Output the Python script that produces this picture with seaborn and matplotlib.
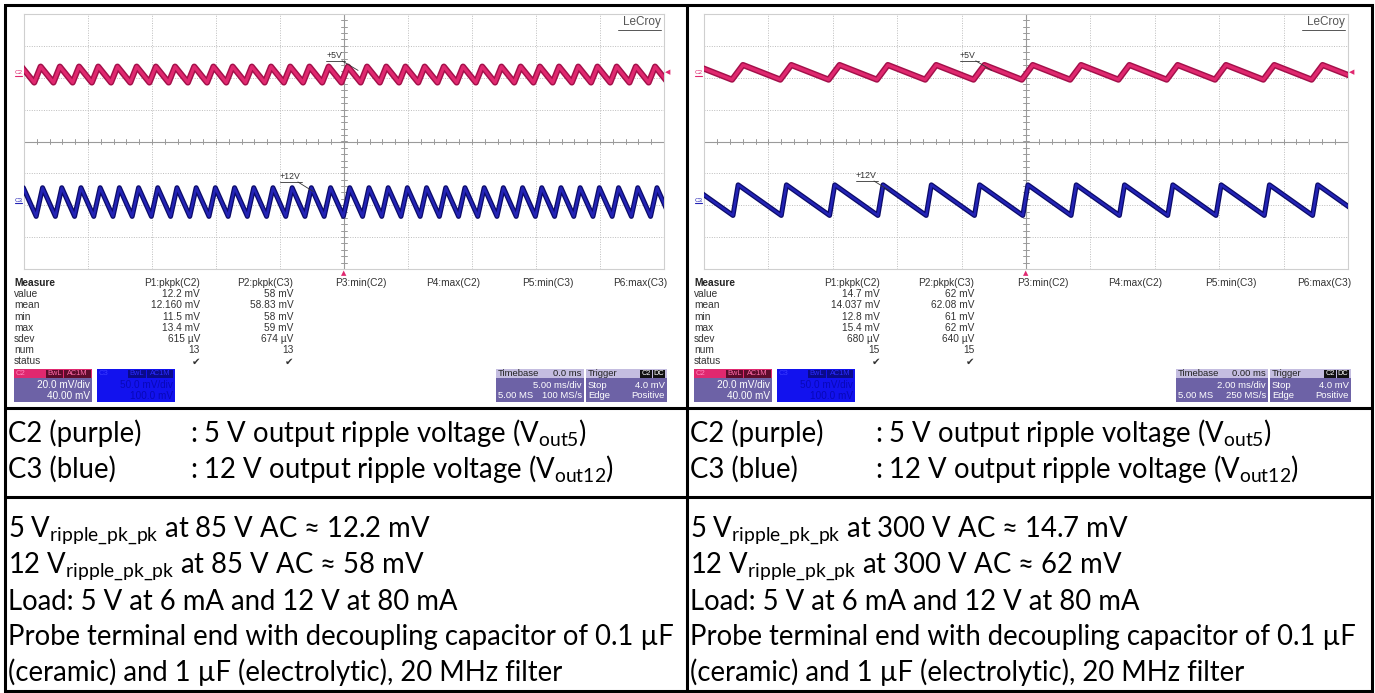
import numpy as np
import pandas as pd
import matplotlib
matplotlib.use("Agg")
import matplotlib.pyplot as plt
import seaborn as sns
from matplotlib.patches import Rectangle

sns.set_style("white")
plt.rcParams['font.family'] = ['Lato', 'DejaVu Sans']
plt.rcParams['mathtext.fontset'] = 'custom'
plt.rcParams['mathtext.rm'] = 'Lato'
plt.rcParams['mathtext.it'] = 'Lato'

# ---------------- data ----------------
AC_INPUT = ["85 V AC", "300 V AC"]
MS_PER_DIV = [5.0, 2.0]
RIPPLE_PERIOD_MS = [1.5, 1.5]
# first trough of each trace (divisions from left edge of the grid)
C2_FIRST_TROUGH_DIV = [0.16, 0.435]
C3_FIRST_TROUGH_DIV = [0.19, 0.45]
# one ripple tooth: time offsets from trough (ms) and level (divisions)
C2_TOOTH_MS = [[0.0, 0.5, 1.5], [0.0, 0.34, 1.5]]
C2_TOOTH_DIV = [[1.85, 2.35, 1.85], [1.94, 2.40, 1.94]]
C3_TOOTH_MS = [[0.0, 0.5, 1.5], [0.0, 0.16, 1.5]]
C3_TOOTH_DIV = [[-2.35, -1.45, -2.35], [-2.32, -1.36, -2.32]]

MEASURE_ROWS = ["value", "mean", "min", "max", "sdev", "num", "status"]
MEASURE_HEADERS = ["P1:pkpk(C2)", "P2:pkpk(C3)", "P3:min(C2)", "P4:max(C2)", "P5:min(C3)", "P6:max(C3)"]
P1_VALUES = [["12.2 mV", "12.160 mV", "11.5 mV", "13.4 mV", "615 µV", "13", "✔"],
             ["14.7 mV", "14.037 mV", "12.8 mV", "15.4 mV", "680 µV", "15", "✔"]]
P2_VALUES = [["58 mV", "58.83 mV", "58 mV", "59 mV", "674 µV", "13", "✔"],
             ["62 mV", "62.08 mV", "61 mV", "62 mV", "640 µV", "15", "✔"]]
C2_SETTINGS = ["20.0 mV/div", "40.00 mV"]
C3_SETTINGS = ["50.0 mV/div", "100.0 mV"]
TIMEBASE_DELAY = ["0.0 ms", "0.00 ms"]
TIMEBASE_DIV = ["5.00 ms/div", "2.00 ms/div"]
TIMEBASE_RATE = ["100 MS/s", "250 MS/s"]
RIPPLE_5V = ["12.2 mV", "14.7 mV"]
RIPPLE_12V = ["58 mV", "62 mV"]

# ---------------- figure ----------------
W, H = 1375, 693
fig = plt.figure(figsize=(W / 100, H / 100), dpi=100)
fig.patch.set_facecolor("white")
bg = fig.add_axes([0, 0, 1, 1])
bg.set_xlim(0, W)
bg.set_ylim(H, 0)
bg.axis("off")

SCOPE_FONT = ['Liberation Sans', 'DejaVu Sans']
PINK = "#e0286f"
PINK_DARK = "#a3104a"
BLUE = "#2323b5"
BLUE_DARK = "#0b0b68"
BOX = "#6d62a6"
BOX_HEAD = "#c4bde0"


def tooth_train(first_trough, period_ms, shape_ms, shape_div, ms_per_div):
    period = period_ms / ms_per_div
    xs, ys = [], []
    base = first_trough - period
    while base < 10 + period:
        for sx, sy in zip(shape_ms[:-1], shape_div[:-1]):
            xs.append(base + sx / ms_per_div)
            ys.append(sy)
        base += period
    return pd.DataFrame({"x": xs, "y": ys})


def pix_text(x, y, s, ha="left", size=7.3, color="#333333", weight="normal", family=None):
    bg.text(x, y, s, ha=ha, va="center", fontsize=size, color=color,
            fontweight=weight, family=family or SCOPE_FONT)


def rect(x0, y0, x1, y1, color, z=1):
    bg.add_patch(Rectangle((x0, y0), x1 - x0, y1 - y0, facecolor=color,
                           edgecolor="none", zorder=z))


GRID_X = [(24, 664), (704, 1348)]
GRID_Y = (14, 269)
OFFS = [0, 680]

for i in range(2):
    gx0, gx1 = GRID_X[i]
    ax = fig.add_axes([gx0 / W, 1 - GRID_Y[1] / H, (gx1 - gx0) / W, (GRID_Y[1] - GRID_Y[0]) / H])
    ax.set_facecolor("white")
    ax.set_xlim(0, 10)
    ax.set_ylim(-4, 4)
    for k in range(1, 10):
        if k != 5:
            ax.axvline(k, color="#bdbdbd", lw=0.7, ls=(0, (1, 1.5)), zorder=0)
    for k in range(-3, 4):
        if k != 0:
            ax.axhline(k, color="#bdbdbd", lw=0.7, ls=(0, (1, 1.5)), zorder=0)
    ax.axvline(5, color="#9a9a9a", lw=0.8, zorder=0)
    ax.axhline(0, color="#9a9a9a", lw=0.8, zorder=0)
    for t in np.arange(0.2, 10, 0.2):
        ax.plot([t, t], [-0.07, 0.07], color="#9a9a9a", lw=0.7, zorder=0)
    for t in np.arange(-3.8, 4, 0.2):
        ax.plot([4.96, 5.04], [t, t], color="#9a9a9a", lw=0.7, zorder=0)
    for sp in ax.spines.values():
        sp.set_color("#cfcfcf")
        sp.set_linewidth(0.8)

    c2 = tooth_train(C2_FIRST_TROUGH_DIV[i], RIPPLE_PERIOD_MS[i], C2_TOOTH_MS[i], C2_TOOTH_DIV[i], MS_PER_DIV[i])
    c3 = tooth_train(C3_FIRST_TROUGH_DIV[i], RIPPLE_PERIOD_MS[i], C3_TOOTH_MS[i], C3_TOOTH_DIV[i], MS_PER_DIV[i])
    sns.lineplot(data=c2, x="x", y="y", sort=False, estimator=None, color=PINK_DARK, lw=4.4, ax=ax, zorder=3)
    sns.lineplot(data=c2, x="x", y="y", sort=False, estimator=None, color=PINK, lw=2.3, ax=ax, zorder=4)
    sns.lineplot(data=c3, x="x", y="y", sort=False, estimator=None, color=BLUE_DARK, lw=3.6, ax=ax, zorder=3)
    sns.lineplot(data=c3, x="x", y="y", sort=False, estimator=None, color=BLUE, lw=1.8, ax=ax, zorder=4)
    ax.set_xlabel("")
    ax.set_ylabel("")
    ax.set_xticks([])
    ax.set_yticks([])

    # LeCroy logo text
    ax.text(9.95, 3.75, "LeCroy", ha="right", va="center", fontsize=8.5, color="#555555", family=SCOPE_FONT, zorder=5)
    ax.plot([9.28, 9.95], [3.5, 3.5], color="#555555", lw=0.7, zorder=5)

    # level labels
    if i == 0:
        lab5 = (4.72, 2.55)
        lab12 = (4.0, -1.25)
    else:
        lab5 = (3.97, 2.55)
        lab12 = (2.36, -1.22)
    ax.text(lab5[0], lab5[1], "+5V", fontsize=6.3, color="#333333", family=SCOPE_FONT, va="bottom", zorder=6)
    ax.plot([lab5[0], lab5[0] + 0.3], [lab5[1] - 0.02, lab5[1] - 0.02], color="#333333", lw=0.6, zorder=6)
    ax.plot([lab5[0] + 0.25, lab5[0] + 0.5], [lab5[1] - 0.02, lab5[1] - 0.32], color="#333333", lw=0.6, zorder=6)
    ax.text(lab12[0], lab12[1], "+12V", fontsize=6.3, color="#333333", family=SCOPE_FONT, va="bottom", zorder=6)
    ax.plot([lab12[0], lab12[0] + 0.34], [lab12[1] - 0.02, lab12[1] - 0.02], color="#333333", lw=0.6, zorder=6)
    ax.plot([lab12[0] + 0.28, lab12[0] + 0.52], [lab12[1] - 0.02, lab12[1] - 0.32], color="#333333", lw=0.6, zorder=6)

    o = OFFS[i]
    # channel markers on left edge
    pix_text(o + 15, 73, "C2", size=4.5, color=PINK)
    bg.plot([o + 15, o + 22], [76, 76], color=PINK, lw=0.8)
    pix_text(o + 15, 200, "C3", size=4.5, color=BLUE)
    bg.plot([o + 15, o + 22], [203, 203], color=BLUE, lw=0.8)
    # trigger level marker at right, trigger position at bottom
    pix_text(gx1 + 4, 72, "◀", size=5, color=PINK, ha="center", family=['DejaVu Sans'])
    pix_text((gx0 + gx1) / 2, 273, "▲", size=5, color=PINK, ha="center", family=['DejaVu Sans'])

    # measure panel
    ys = [283 + 11.2 * k for k in range(8)]
    pix_text(o + 14, ys[0], "Measure", weight="bold", color="#222222")
    for r, name in enumerate(MEASURE_ROWS):
        pix_text(o + 14, ys[r + 1], name)
    step = 93.4 if i == 0 else 94.2
    for c, hdr in enumerate(MEASURE_HEADERS):
        pix_text(o + 200 + step * c, ys[0], hdr, ha="right")
    for r in range(7):
        fam = ['DejaVu Sans'] if r == 6 else SCOPE_FONT
        pix_text(o + 200, ys[r + 1], P1_VALUES[i][r], ha="right", family=fam)
        pix_text(o + 200 + step, ys[r + 1], P2_VALUES[i][r], ha="right", family=fam)

    # channel boxes
    y0, yh, y1 = 369, 378, 402
    rect(o + 14, y0, o + 92, y1, BOX)
    rect(o + 14, y0, o + 92, yh, PINK, 2)
    pix_text(o + 16, 373.5, "C2", size=5.5, color="#ff8cc0")
    rect(o + 46, y0 + 1, o + 63, yh - 0.5, "#5e0c2c", 3)
    rect(o + 64, y0 + 1, o + 91, yh - 0.5, "#5e0c2c", 3)
    pix_text(o + 54.5, 373.5, "BwL", size=5.3, color="#ff6aa8", ha="center")
    pix_text(o + 77.5, 373.5, "AC1M", size=5.3, color="#ff6aa8", ha="center")
    pix_text(o + 90, 385, C2_SETTINGS[0], size=7.2, color="white", ha="right")
    pix_text(o + 90, 396, C2_SETTINGS[1], size=7.2, color="white", ha="right")

    rect(o + 97, y0, o + 175, y1, "#1212ee")
    pix_text(o + 99, 373.5, "C3", size=5.5, color="#3a3aff")
    rect(o + 128, y0 + 1, o + 146, yh - 0.5, "#0a0a8a", 3)
    rect(o + 147, y0 + 1, o + 173, yh - 0.5, "#0a0a8a", 3)
    pix_text(o + 137, 373.5, "BwL", size=5.3, color="#2a2aff", ha="center")
    pix_text(o + 160, 373.5, "AC1M", size=5.3, color="#2a2aff", ha="center")
    pix_text(o + 173, 385, C3_SETTINGS[0], size=7.2, color="#0808b8", ha="right")
    pix_text(o + 173, 396, C3_SETTINGS[1], size=7.2, color="#0808b8", ha="right")

    # timebase box
    tx0, tx1 = o + 496, o + 584 + (4 if i else 0)
    rect(tx0, y0, tx1, y1, BOX)
    rect(tx0, y0, tx1, yh, BOX_HEAD, 2)
    pix_text(tx0 + 2, 373.5, "Timebase", size=6.8, color="#222222")
    pix_text(tx1 - 2, 373.5, TIMEBASE_DELAY[i], size=6.8, color="#222222", ha="right")
    pix_text(tx1 - 2, 385, TIMEBASE_DIV[i], size=6.8, color="white", ha="right")
    pix_text(tx0 + 2, 396, "5.00 MS", size=6.8, color="white")
    pix_text(tx1 - 2, 396, TIMEBASE_RATE[i], size=6.8, color="white", ha="right")

    # trigger box
    gx0b, gx1b = tx1 + 2, o + 667 + (4 if i else 0)
    rect(gx0b, y0, gx1b, y1, BOX)
    rect(gx0b, y0, gx1b, yh, BOX_HEAD, 2)
    pix_text(gx0b + 2, 373.5, "Trigger", size=6.8, color="#222222")
    rect(gx1b - 27, y0 + 1, gx1b - 15, yh - 0.5, "#111111", 3)
    rect(gx1b - 14, y0 + 1, gx1b - 2, yh - 0.5, "#111111", 3)
    pix_text(gx1b - 21, 373.5, "C2", size=5.3, color="white", ha="center")
    pix_text(gx1b - 8, 373.5, "DC", size=5.3, color="white", ha="center")
    pix_text(gx0b + 2, 385, "Stop", size=6.8, color="white")
    pix_text(gx1b - 2, 385, "4.0 mV", size=6.8, color="white", ha="right")
    pix_text(gx0b + 2, 396, "Edge", size=6.8, color="white")
    pix_text(gx1b - 2, 396, "Positive", size=6.8, color="white", ha="right")

# ---------------- table ----------------
LW = 2.2
bg.plot([5, 1372, 1372, 5, 5], [5, 5, 691, 691, 5], color="black", lw=LW, solid_joinstyle="miter")
bg.plot([687, 687], [5, 691], color="black", lw=LW)
bg.plot([5, 1372], [407.5, 407.5], color="black", lw=LW)
bg.plot([5, 1372], [497, 497], color="black", lw=LW)

table_texts = []
COL_X = [8, 690]
COLON_X = [190, 875]
for i in range(2):
    x = COL_X[i]
    rows = [
        (433, "C2 (purple)", r": 5 V output ripple voltage (V$_{\mathregular{out5}}$)"),
        (469, "C3 (blue)", r": 12 V output ripple voltage (V$_{\mathregular{out12}}$)"),
    ]
    for y, a, b in rows:
        table_texts.append(bg.text(x, y, a, ha="left", va="center", fontsize=15, color="black"))
        table_texts.append(bg.text(COLON_X[i], y, b, ha="left", va="center", fontsize=15, color="black"))
    lines = [
        r"5 V$_{\mathregular{ripple\_pk\_pk}}$ at " + AC_INPUT[i] + " ≈ " + RIPPLE_5V[i],
        r"12 V$_{\mathregular{ripple\_pk\_pk}}$ at " + AC_INPUT[i] + " ≈ " + RIPPLE_12V[i],
        "Load: 5 V at 6 mA and 12 V at 80 mA",
        "Probe terminal end with decoupling capacitor of 0.1 µF",
        "(ceramic) and 1 µF (electrolytic), 20 MHz filter",
    ]
    for k, s in enumerate(lines):
        table_texts.append(bg.text(x, 531 + 35.3 * k, s, ha="left", va="center", fontsize=15, color="black"))

# fit font size so the longest line spans the cell width as in the reference
fig.canvas.draw()
renderer = fig.canvas.get_renderer()
probe = [t for t in table_texts if t.get_text().startswith("Probe")][0]
wpx = probe.get_window_extent(renderer).width
new_size = 15 * 668 / wpx
for t in table_texts:
    t.set_fontsize(new_size)

fig.savefig("out.png", dpi=100, facecolor="white")
